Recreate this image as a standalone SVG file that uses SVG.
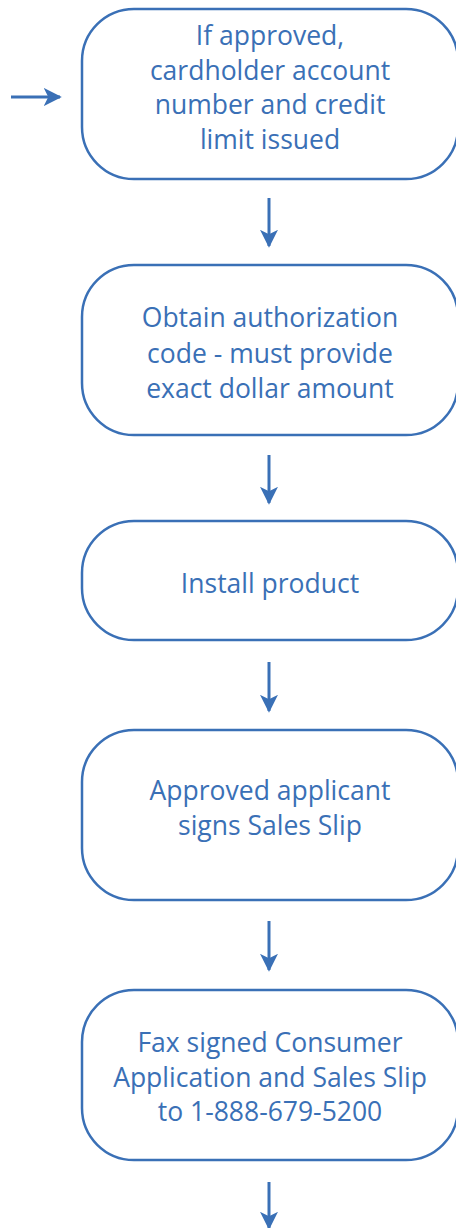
<svg xmlns="http://www.w3.org/2000/svg" width="456" height="1228" viewBox="0 0 456 1228">
  <style>
    .box { fill: #ffffff; stroke: #3a70b6; stroke-width: 2.5; }
    .label { font-family: "Open Sans", "Liberation Sans", sans-serif; font-size: 26.5px; fill: #3a70b6; text-anchor: middle; }
    .conn { stroke: #3a70b6; stroke-width: 3; fill: none; marker-end: url(#head); }
  </style>
  <defs>
    <marker id="head" viewBox="0 0 10 10" refX="9" refY="5" markerWidth="6" markerHeight="6" markerUnits="strokeWidth" orient="auto">
      <path d="M0,0 L10,5 L0,10 L2.5,5 Z" fill="#3a70b6"/>
    </marker>
  </defs>

  <g id="connectors">
    <line class="conn" x1="11" y1="97" x2="60" y2="97"/>
    <line class="conn" x1="269" y1="198" x2="269" y2="246"/>
    <line class="conn" x1="269" y1="455" x2="269" y2="503"/>
    <line class="conn" x1="269" y1="662" x2="269" y2="711"/>
    <line class="conn" x1="269" y1="921" x2="269" y2="970"/>
    <line class="conn" x1="269" y1="1182" x2="269" y2="1228"/>
  </g>

  <g id="node-issued">
    <rect class="box" x="82" y="9" width="376" height="170" rx="52" ry="52"/>
    <text class="label" x="270" y="45">If approved,</text>
    <text class="label" x="270" y="80">cardholder account</text>
    <text class="label" x="270" y="114">number and credit</text>
    <text class="label" x="270" y="149">limit issued</text>
  </g>

  <g id="node-authorization">
    <rect class="box" x="82" y="265" width="376" height="170" rx="52" ry="52"/>
    <text class="label" x="270" y="327">Obtain authorization</text>
    <text class="label" x="270" y="363">code - must provide</text>
    <text class="label" x="270" y="398">exact dollar amount</text>
  </g>

  <g id="node-install">
    <rect class="box" x="82" y="521" width="376" height="119" rx="52" ry="52"/>
    <text class="label" x="270" y="593">Install product</text>
  </g>

  <g id="node-signs">
    <rect class="box" x="82" y="730" width="376" height="170" rx="52" ry="52"/>
    <text class="label" x="270" y="800">Approved applicant</text>
    <text class="label" x="270" y="835">signs Sales Slip</text>
  </g>

  <g id="node-fax">
    <rect class="box" x="82" y="990" width="376" height="170" rx="52" ry="52"/>
    <text class="label" x="270" y="1052">Fax signed Consumer</text>
    <text class="label" x="270" y="1087">Application and Sales Slip</text>
    <text class="label" x="270" y="1121">to 1-888-679-5200</text>
  </g>
</svg>
